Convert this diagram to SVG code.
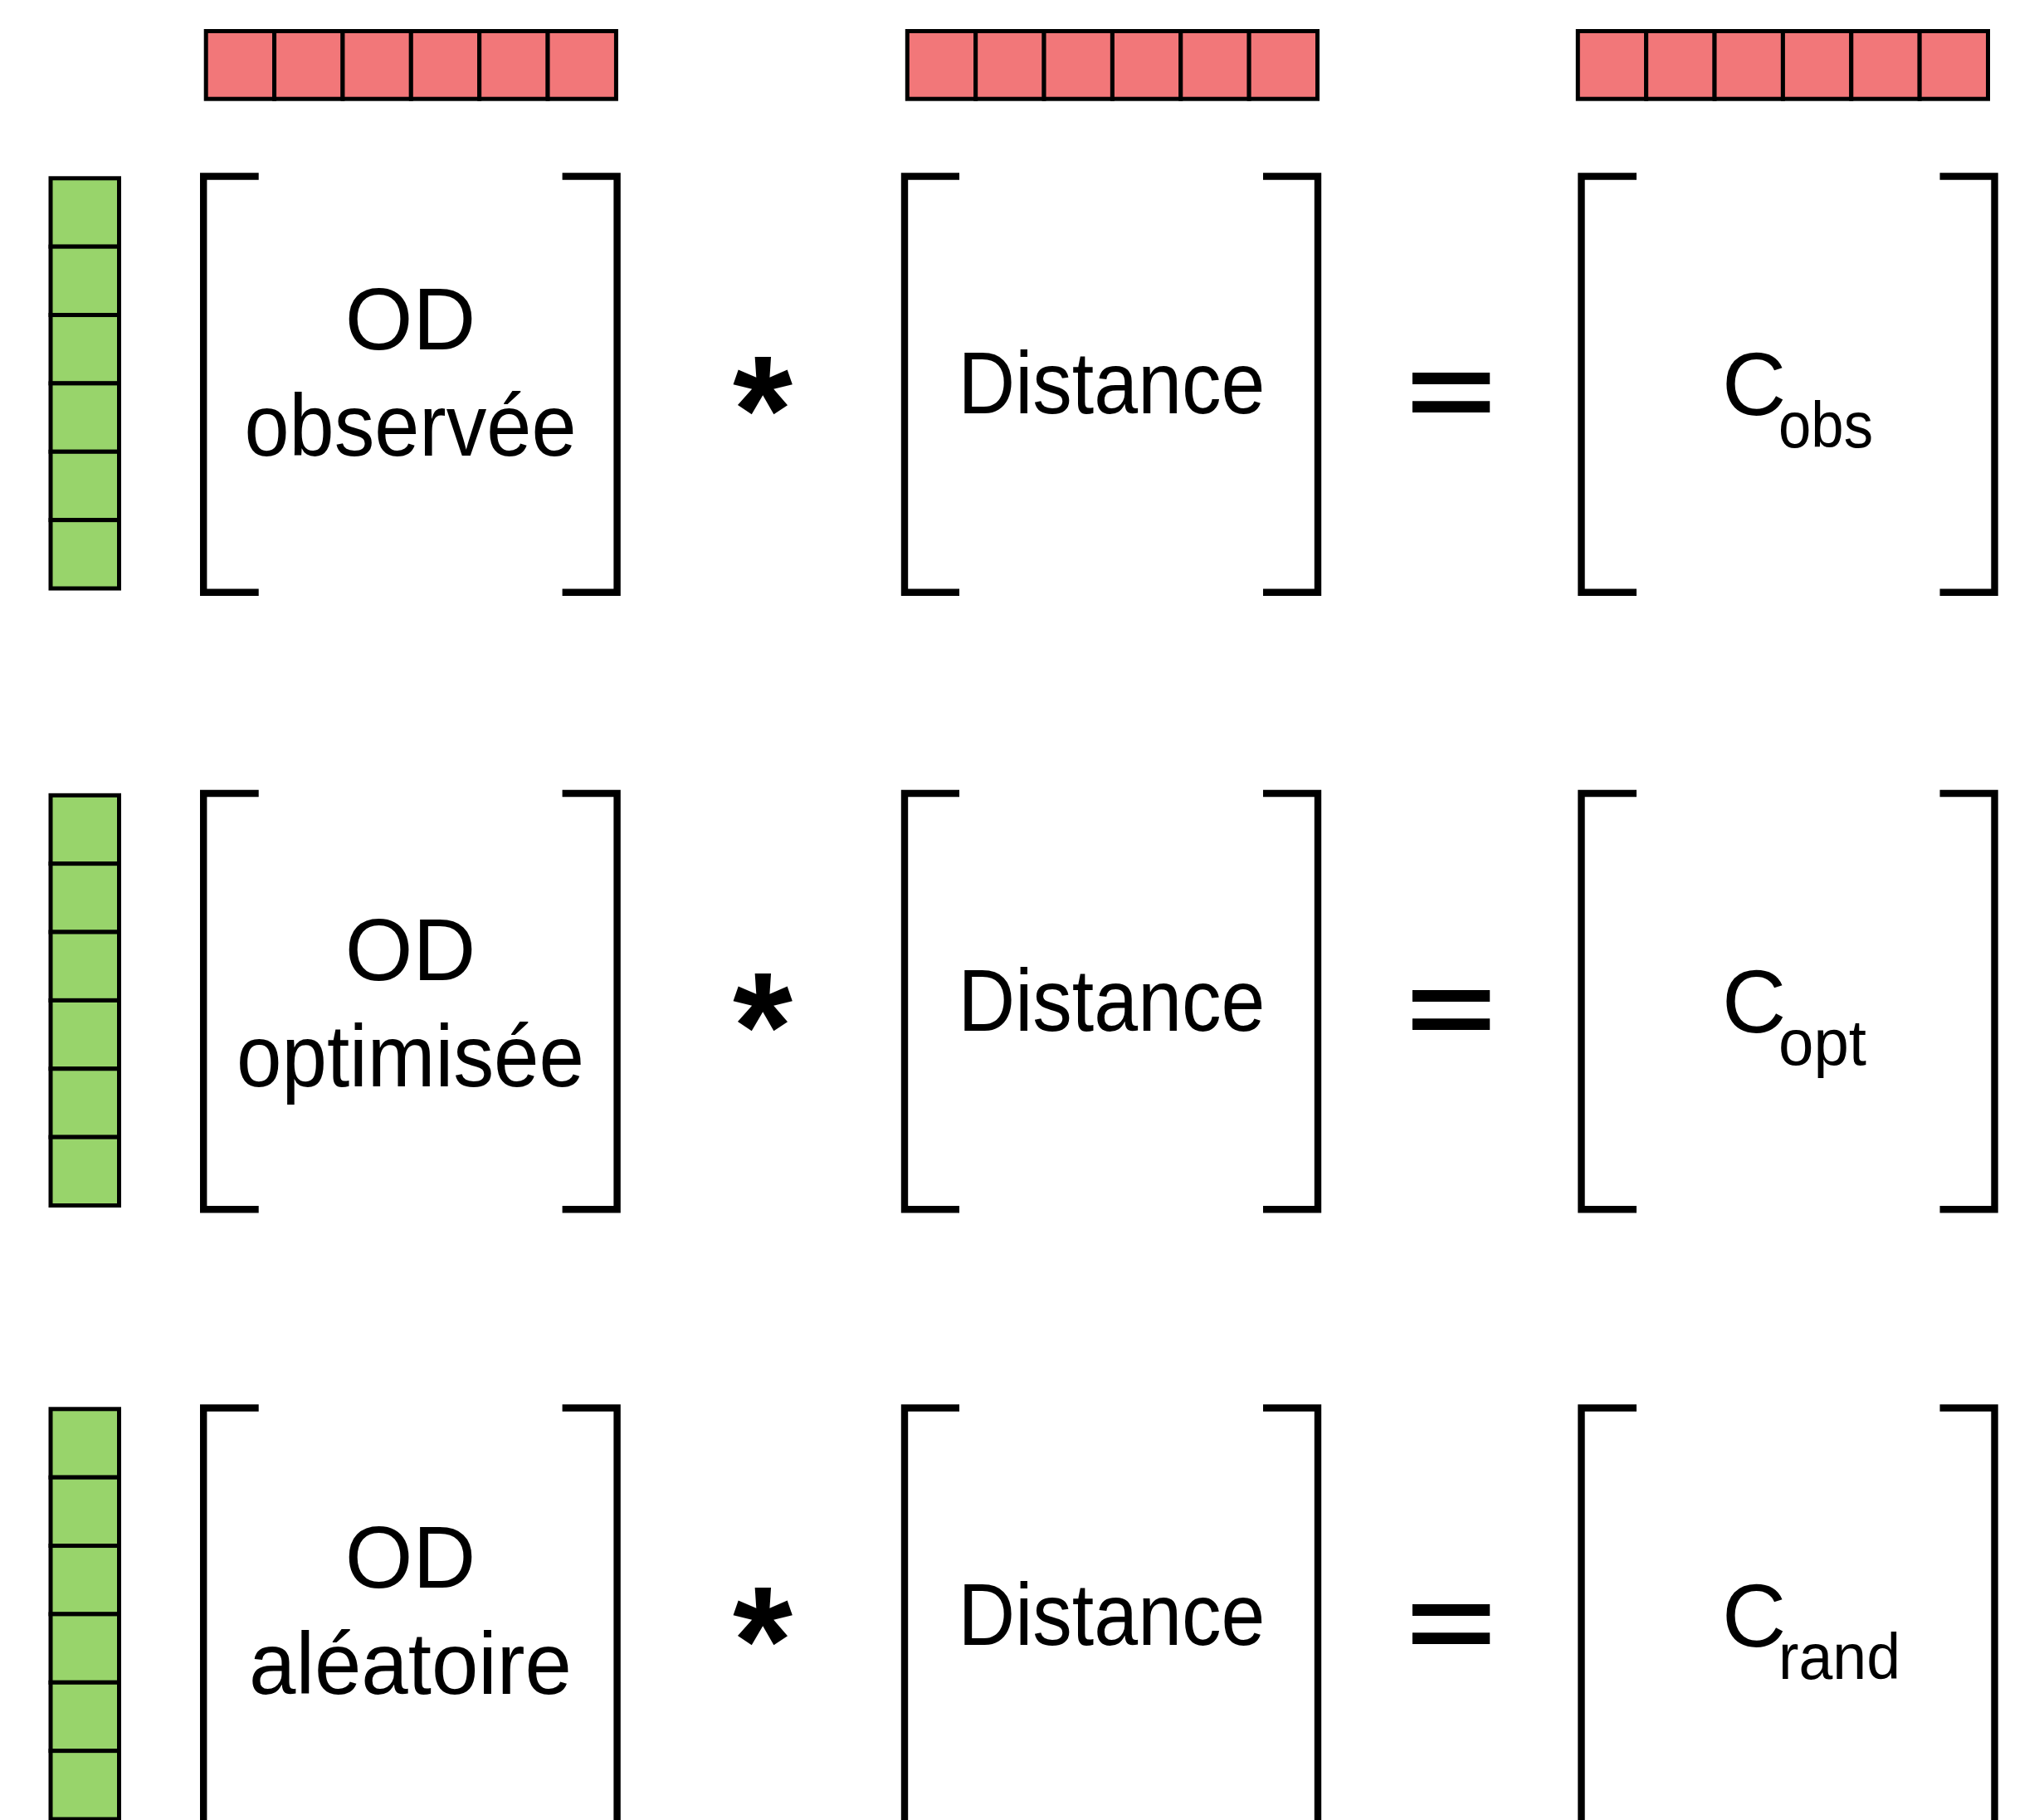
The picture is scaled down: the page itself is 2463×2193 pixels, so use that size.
<svg xmlns="http://www.w3.org/2000/svg" width="2463" height="2193" viewBox="0 0 2463 2193">
<style>
.bg{fill:#ffffff}
.red{fill:#F27779;stroke:#000;stroke-width:5}
.green{fill:#98D46B;stroke:#000;stroke-width:5}
.br{fill:none;stroke:#000;stroke-width:8.4;stroke-linejoin:miter;stroke-linecap:butt}
.lbl{font-family:"Liberation Sans",Arial,sans-serif;font-size:105px;fill:#000;text-anchor:middle}
.cm{font-family:"Liberation Sans",Arial,sans-serif;font-size:107px;fill:#000}
.sub{font-family:"Liberation Sans",Arial,sans-serif;font-size:78px;fill:#000}
.op{font-family:"Liberation Sans",Arial,sans-serif;font-weight:bold;fill:#000;text-anchor:middle}
.ast{font-size:185px}
.eq{font-size:186px}
</style>
<defs>
<g id="hbar">
<rect class="red" x="0" y="0" width="82.37" height="81.7"/>
<rect class="red" x="82.37" y="0" width="82.37" height="81.7"/>
<rect class="red" x="164.74" y="0" width="82.37" height="81.7"/>
<rect class="red" x="247.11" y="0" width="82.37" height="81.7"/>
<rect class="red" x="329.48" y="0" width="82.37" height="81.7"/>
<rect class="red" x="411.85" y="0" width="82.37" height="81.7"/>
</g>
<g id="vbar">
<rect class="green" x="0" y="0" width="82.5" height="82.37"/>
<rect class="green" x="0" y="82.37" width="82.5" height="82.37"/>
<rect class="green" x="0" y="164.74" width="82.5" height="82.37"/>
<rect class="green" x="0" y="247.11" width="82.5" height="82.37"/>
<rect class="green" x="0" y="329.48" width="82.5" height="82.37"/>
<rect class="green" x="0" y="411.85" width="82.5" height="82.37"/>
</g>
</defs>
<rect class="bg" x="0" y="0" width="2463" height="2193"/>

<g id="top-vectors">
<use href="#hbar" x="248.2" y="37.5"/>
<use href="#hbar" x="1093.3" y="37.5"/>
<use href="#hbar" x="1901.3" y="37.5"/>
</g>

<g id="row1">
<g id="row1-vector"><use href="#vbar" x="61" y="214.8"/></g>
<g id="row1-od">
<path class="br" d="M311.7,212.5 H245.2 V713.8 H311.7"/>
<path class="br" d="M677.6,212.5 H743.6 V713.8 H677.6"/>
<text class="lbl" x="494.5" y="421">OD</text>
<text class="lbl" x="494.5" y="549" textLength="400" lengthAdjust="spacingAndGlyphs">observée</text>
</g>
<g id="row1-times"><text class="op ast" x="919" y="557.6">*</text></g>
<g id="row1-dist">
<path class="br" d="M1156,212.5 H1090 V713.8 H1156"/>
<path class="br" d="M1522,212.5 H1588 V713.8 H1522"/>
<text class="lbl" x="1339.5" y="498" textLength="370" lengthAdjust="spacingAndGlyphs">Distance</text>
</g>
<g id="row1-eq"><text class="op eq" x="0" y="60.5" transform="translate(1748.5,473.5) scale(1,0.69)">=</text></g>
<g id="row1-c">
<path class="br" d="M1972,212.5 H1905.5 V713.8 H1972"/>
<path class="br" d="M2337.5,212.5 H2403.5 V713.8 H2337.5"/>
<text><tspan class="cm" x="2075" y="500">C</tspan><tspan class="sub" x="2143" y="539" textLength="114" lengthAdjust="spacingAndGlyphs">obs</tspan></text>
</g>
</g>

<g id="row2">
<g id="row2-vector"><use href="#vbar" x="61" y="958.3"/></g>
<g id="row2-od">
<path class="br" d="M311.7,956 H245.2 V1457.3 H311.7"/>
<path class="br" d="M677.6,956 H743.6 V1457.3 H677.6"/>
<text class="lbl" x="494.5" y="1181">OD</text>
<text class="lbl" x="494.5" y="1309" textLength="419" lengthAdjust="spacingAndGlyphs">optimisée</text>
</g>
<g id="row2-times"><text class="op ast" x="919" y="1301">*</text></g>
<g id="row2-dist">
<path class="br" d="M1156,956 H1090 V1457.3 H1156"/>
<path class="br" d="M1522,956 H1588 V1457.3 H1522"/>
<text class="lbl" x="1339.5" y="1241.5" textLength="370" lengthAdjust="spacingAndGlyphs">Distance</text>
</g>
<g id="row2-eq"><text class="op eq" x="0" y="60.5" transform="translate(1748.5,1217) scale(1,0.69)">=</text></g>
<g id="row2-c">
<path class="br" d="M1972,956 H1905.5 V1457.3 H1972"/>
<path class="br" d="M2337.5,956 H2403.5 V1457.3 H2337.5"/>
<text><tspan class="cm" x="2075" y="1243.5">C</tspan><tspan class="sub" x="2143" y="1282.5" textLength="106" lengthAdjust="spacingAndGlyphs">opt</tspan></text>
</g>
</g>

<g id="row3">
<g id="row3-vector"><use href="#vbar" x="61" y="1697.8"/></g>
<g id="row3-od">
<path class="br" d="M311.7,1696.5 H245.2 V2197.8 H311.7"/>
<path class="br" d="M677.6,1696.5 H743.6 V2197.8 H677.6"/>
<text class="lbl" x="494.5" y="1913">OD</text>
<text class="lbl" x="494.5" y="2041" textLength="389" lengthAdjust="spacingAndGlyphs">aléatoire</text>
</g>
<g id="row3-times"><text class="op ast" x="919" y="2041">*</text></g>
<g id="row3-dist">
<path class="br" d="M1156,1696.5 H1090 V2197.8 H1156"/>
<path class="br" d="M1522,1696.5 H1588 V2197.8 H1522"/>
<text class="lbl" x="1339.5" y="1982" textLength="370" lengthAdjust="spacingAndGlyphs">Distance</text>
</g>
<g id="row3-eq"><text class="op eq" x="0" y="60.5" transform="translate(1748.5,1957) scale(1,0.69)">=</text></g>
<g id="row3-c">
<path class="br" d="M1972,1696.5 H1905.5 V2197.8 H1972"/>
<path class="br" d="M2337.5,1696.5 H2403.5 V2197.8 H2337.5"/>
<text><tspan class="cm" x="2075" y="1984">C</tspan><tspan class="sub" x="2143" y="2023" textLength="147" lengthAdjust="spacingAndGlyphs">rand</tspan></text>
</g>
</g>

<g id="connectors"></g>
</svg>
